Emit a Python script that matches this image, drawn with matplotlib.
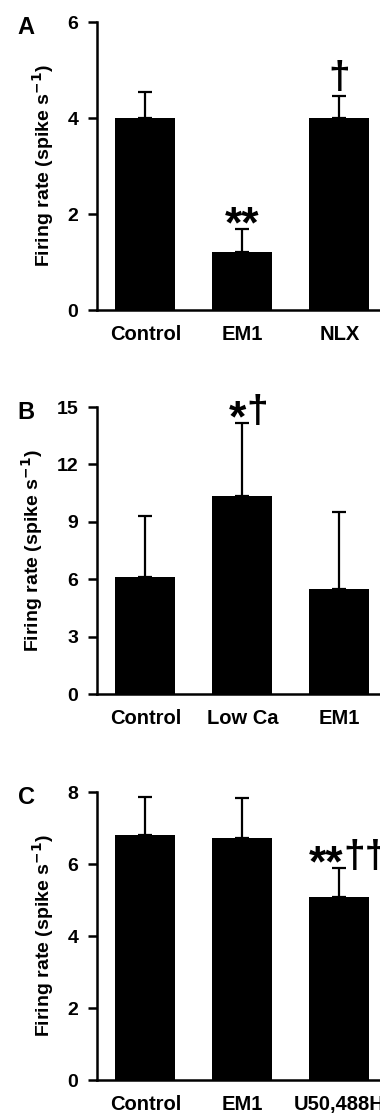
import numpy as np
import matplotlib.pyplot as plt

plt.rcParams['font.family'] = ['Liberation Sans', 'DejaVu Sans']
plt.rcParams['font.weight'] = 'bold'

# panel A
labels_a = ["Control", "EM1", "NLX"]
means_a = [4.0, 1.2, 4.0]
sem_a = [0.54, 0.49, 0.46]
stars_a = ["", "**", ""]
daggers_a = ["", "", "\u2020"]

# panel B
labels_b = ["Control", "Low Ca", "EM1"]
means_b = [6.1, 10.35, 5.5]
sem_b = [3.2, 3.82, 4.0]
stars_b = ["", "*", ""]
daggers_b = ["", "\u2020", ""]

# panel C
labels_c = ["Control", "EM1", "U50,488H"]
means_c = [6.8, 6.72, 5.08]
sem_c = [1.06, 1.11, 0.81]
stars_c = ["", "", "**"]
daggers_c = ["", "", "\u2020\u2020"]

panels = [
    ("A", labels_a, means_a, sem_a, stars_a, daggers_a, 6, [0, 2, 4, 6], [0.7217, 0.2585]),
    ("B", labels_b, means_b, sem_b, stars_b, daggers_b, 15, [0, 3, 6, 9, 12, 15], [0.377, 0.2576]),
    ("C", labels_c, means_c, sem_c, stars_c, daggers_c, 8, [0, 2, 4, 6, 8], [0.0305, 0.2585]),
]

fig = plt.figure(figsize=(3.8, 11.14), dpi=100)

for letter, labels, means, sem, stars, daggers, ymax, yticks, (bot, h) in panels:
    ax = fig.add_axes([0.255, bot, 0.745, h])
    x = np.arange(len(labels))
    ax.bar(x, means, width=0.62, color='black', zorder=2)
    ax.errorbar(x, means, yerr=[np.zeros(len(sem)), sem], fmt='none',
                ecolor='black', elinewidth=1.6, capsize=5, capthick=1.6, zorder=1)
    # significance marks: asterisks and daggers drawn apart so each can sit right
    for xi, m, s, st, dg in zip(x, means, sem, stars, daggers):
        top = m + s
        both = bool(st) and bool(dg)
        if st:
            ax.annotate(st, (xi, top), xytext=(3 if both else 0, -6), textcoords='offset points',
                        ha='right' if both else 'center', va='baseline',
                        fontsize=32, fontweight='bold')
        if dg:
            ax.annotate(dg, (xi, top), xytext=(3 if both else 0, 1 if both else 6),
                        textcoords='offset points',
                        ha='left' if both else 'center', va='baseline',
                        fontsize=28, fontweight='bold')
    ax.set_xlim(-0.5, 2.42)
    ax.set_ylim(0, ymax)
    ax.set_yticks(yticks)
    ax.set_xticks(x)
    ax.set_xticklabels(labels, fontsize=14.5, fontweight='bold')
    ax.tick_params(axis='x', length=0, pad=11)
    ax.tick_params(axis='y', length=6.5, width=1.8, labelsize=14, pad=7)
    for lab in ax.get_yticklabels():
        lab.set_fontweight('bold')
    ax.spines['top'].set_visible(False)
    ax.spines['right'].set_visible(False)
    ax.spines['left'].set_linewidth(1.8)
    ax.spines['bottom'].set_linewidth(1.8)
    ax.set_ylabel("Firing rate (spike s$^{\\mathbf{-1}}$)", fontsize=14, fontweight='bold', labelpad=8)
    ax.text(-0.22, 0.98, letter, transform=ax.transAxes, fontsize=17, fontweight='bold',
            ha='right', va='center')

fig.savefig("out.png", dpi=100)
